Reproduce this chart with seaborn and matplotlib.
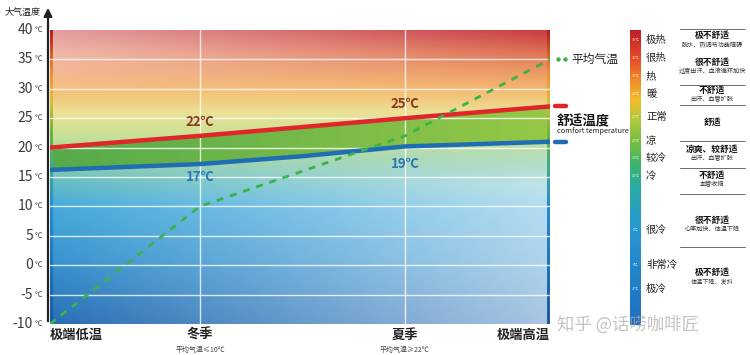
import numpy as np
import matplotlib
matplotlib.use('Agg')
import matplotlib.pyplot as plt
import matplotlib.transforms as mtransforms
import seaborn as sns

sns.set_theme(style="white")
plt.rcParams['font.family'] = ['Noto Sans CJK SC', 'DejaVu Sans']

# data
season_labels = ['极端低温', '冬季', '夏季', '极端高温']
season_notes = ['', '平均气温≤10℃', '平均气温≥22℃', '']
season_pos = [0, 3, 7.1, 10]
comfort_upper = [20, 22, 25, 27]
lower_pos = [0, 3, 5, 7.1, 10]
comfort_lower = [16.2, 17.2, 18.5, 20.2, 21]
avg_temp = [-10, 10, 22, 35]
upper_labels = ['22℃', '25℃']
lower_labels = ['17℃', '19℃']
y_ticks = [-10, -5, 0, 5, 10, 15, 20, 25, 30, 35, 40]

feel_words = ['极热', '很热', '热', '暖', '正常', '凉', '较冷', '冷', '很冷', '非常冷', '极冷']
feel_temps = ['38℃', '35℃', '32℃', '29℃', '25℃', '21℃', '19℃', '15℃', '5℃', '0℃', '-4℃']
feel_y = [40, 58, 76, 94, 117, 141, 158, 176, 230, 265, 289]

comfort_titles = ['极不舒适', '很不舒适', '不舒适', '舒适', '凉爽、较舒适', '不舒适', '很不舒适', '极不舒适']
comfort_notes = ['脱水、热调节功能障碍', '过度出汗、血液循环加快', '出汗、血管扩张', '',
                 '出汗、血管扩张', '血管收缩', '心率加快、体温下降', '体温下降、发抖']
comfort_y = [35, 62, 90, 122, 149, 175, 220, 272]
sep_y = [29, 85, 105, 141, 168, 194, 247]

W, H = 750, 355
def fx(x):
    return x / W
def fy(y):
    return 1 - y / H

fig = plt.figure(figsize=(7.5, 3.55), dpi=100)
ax = fig.add_axes([fx(50), fy(324), 500 / W, 294 / H])

# background gradient by temperature
stop_t = [-10, 0, 10, 14, 18, 22, 26, 30, 35, 40]
stop_c = [(40, 110, 180), (55, 145, 205), (70, 170, 220), (100, 188, 195), (150, 208, 165),
          (200, 225, 150), (235, 225, 150), (245, 185, 110), (230, 130, 90), (200, 60, 65)]
temps = np.linspace(40, -10, 300)
xs = np.linspace(0, 1, 200)
cols = np.array([np.interp(temps, stop_t, [c[i] for c in stop_c]) for i in range(3)]).T / 255
img = np.repeat(cols[:, None, :], len(xs), axis=1)
T = temps[:, None]
X = xs[None, :]
w = 0.6 * X * np.clip((22 - T) / 8, 0, 1) + 0.5 * (1 - X) * np.clip((T - 28) / 8, 0, 1)
img = img * (1 - w[..., None]) + w[..., None]
ax.imshow(img, extent=[0, 10, -10, 40], aspect='auto', zorder=0, interpolation='bilinear')

# comfort band
xf = np.linspace(0, 10, 200)
band = ax.fill_between(xf, np.interp(xf, season_pos, comfort_upper),
                       np.interp(xf, lower_pos, comfort_lower), facecolor='none', lw=0, zorder=1)
band_img = np.zeros((2, 100, 3))
band_img[:, :, 0] = np.linspace(85, 150, 100) / 255
band_img[:, :, 1] = np.linspace(170, 200, 100) / 255
band_img[:, :, 2] = np.linspace(75, 70, 100) / 255
bi = ax.imshow(band_img, extent=[0, 10, 15, 28], aspect='auto', zorder=1)
bi.set_clip_path(band.get_paths()[0], transform=ax.transData)

# edge strips
strip_t = [-10, 10, 16, 22, 28, 33, 40]
strip_c = [(30, 90, 160), (40, 140, 210), (60, 170, 150), (100, 180, 60), (220, 190, 60), (240, 140, 50), (180, 30, 35)]
st = np.array([np.interp(temps, strip_t, [c[i] for c in strip_c]) for i in range(3)]).T / 255
ax.imshow(st[:, None, :], extent=[0, 0.06, -10, 40], aspect='auto', zorder=1.5)
ax.imshow(st[:, None, :], extent=[9.94, 10, -10, 40], aspect='auto', zorder=1.5)

# grid
for t in y_ticks[1:-1]:
    ax.axhline(t, color='white', lw=1, alpha=0.8, zorder=2)
for p in season_pos[1:3]:
    ax.axvline(p, color='white', lw=1, alpha=0.8, zorder=2)

# lines
sns.lineplot(x=season_pos, y=comfort_upper, ax=ax, color='#e0262a', lw=3.2, zorder=4)
sns.lineplot(x=lower_pos, y=comfort_lower, ax=ax, color='#1f6db3', lw=3.2, zorder=4)
sns.lineplot(x=season_pos, y=avg_temp, ax=ax, color='#3bb34a', lw=2, linestyle=(0, (2.5, 2.5)), zorder=5)

for p, v, lab in zip(season_pos[1:3], comfort_upper[1:3], upper_labels):
    ax.annotate(lab, (p, v), xytext=(0, 14), textcoords='offset pixels', ha='center', va='center',
                fontsize=9.5, color='#8a3a1f', fontweight='bold', zorder=6)
lower_at_season = [comfort_lower[1], comfort_lower[3]]
for p, v, lab, off in zip(season_pos[1:3], lower_at_season, lower_labels, [-13, -18]):
    ax.annotate(lab, (p, v), xytext=(0, off), textcoords='offset pixels', ha='center', va='center',
                fontsize=9.5, color='#2a78b8', fontweight='bold', zorder=6)

ax.set_xlim(0, 10)
ax.set_ylim(-10, 40)
ax.set_xticks([])
ax.set_yticks([])
for s in ax.spines.values():
    s.set_visible(False)

# y axis arrow
ax.annotate('', xy=(-0.004, 1.085), xytext=(-0.004, 0), xycoords='axes fraction',
            arrowprops=dict(arrowstyle='-|>', color='#222222', lw=1.6, mutation_scale=12))
fig.text(fx(5), fy(12), '大气温度', fontsize=6.5, color='#222', va='center')

trans = mtransforms.blended_transform_factory(ax.transAxes, ax.transData)
for t in y_ticks:
    ax.text(-0.034, t, str(t), transform=trans, ha='right', va='center', fontsize=10, color='#3a3a3a')
    ax.text(-0.030, t, '℃', transform=trans, ha='left', va='center', fontsize=5.5, color='#3a3a3a')

trans_x = mtransforms.blended_transform_factory(ax.transData, ax.transAxes)
for p, lab, note, ha in zip(season_pos, season_labels, season_notes, ['left', 'center', 'center', 'right']):
    ax.text(p, -0.037, lab, transform=trans_x, ha=ha, va='center', fontsize=9.5, color='#222', fontweight='bold')
    if note:
        ax.text(p, -0.087, note, transform=trans_x, ha='center', va='center', fontsize=5, color='#444')

# right side legend bits
ax.plot([10.16, 10.3], [35, 35], ls='none', marker='o', ms=2.2, color='#3bb34a', clip_on=False)
ax.text(10.42, 35, '平均气温', fontsize=8.5, color='#222', va='center', clip_on=False)
ax.plot([10.1, 10.32], [27, 27], color='#e0262a', lw=3.2, clip_on=False)
ax.plot([10.1, 10.32], [21, 21], color='#1f6db3', lw=3.2, clip_on=False)
ax.text(10.14, 24.5, '舒适温度', fontsize=9.5, fontweight='bold', color='#111', va='center', clip_on=False)
ax.text(10.14, 22.8, 'comfort temperature', fontsize=5.3, color='#222', va='center', clip_on=False)

# feeling colour bar
cax = fig.add_axes([fx(630), fy(325), 11 / W, 295 / H])
bar_py = [30, 60, 80, 100, 120, 145, 165, 190, 230, 325]
bar_c = [(190, 30, 40), (230, 80, 40), (240, 140, 40), (240, 190, 40), (175, 200, 60),
         (110, 190, 70), (60, 180, 110), (40, 170, 170), (40, 150, 210), (30, 110, 190)]
py = np.linspace(30, 325, 300)
bc = np.array([np.interp(py, bar_py, [c[i] for c in bar_c]) for i in range(3)]).T / 255
cax.imshow(bc[:, None, :], aspect='auto', extent=[0, 1, 325, 30])
cax.set_ylim(325, 30)
cax.axis('off')
for word, tl, y in zip(feel_words, feel_temps, feel_y):
    fig.text(fx(635.5), fy(y), tl, fontsize=2.6, color='white', ha='center', va='center', alpha=0.85)
    fig.text(fx(646), fy(y), word, fontsize=7.5, color='#222', ha='left', va='center')

for title, note, y in zip(comfort_titles, comfort_notes, comfort_y):
    fig.text(fx(712), fy(y), title, fontsize=6.3, fontweight='bold', color='#111', ha='center', va='center')
    if note:
        fig.text(fx(712), fy(y + 9), note, fontsize=4.4, color='#333', ha='center', va='center')
for y in sep_y:
    fig.add_artist(plt.Line2D([fx(680), fx(745)], [fy(y), fy(y)], color='#555', lw=0.6))

fig.text(fx(557), fy(325), '知乎 @话唠咖啡匠', fontsize=12.5, color='#aaaaaa', alpha=0.7, va='center')

fig.savefig('out.png', dpi=100)
